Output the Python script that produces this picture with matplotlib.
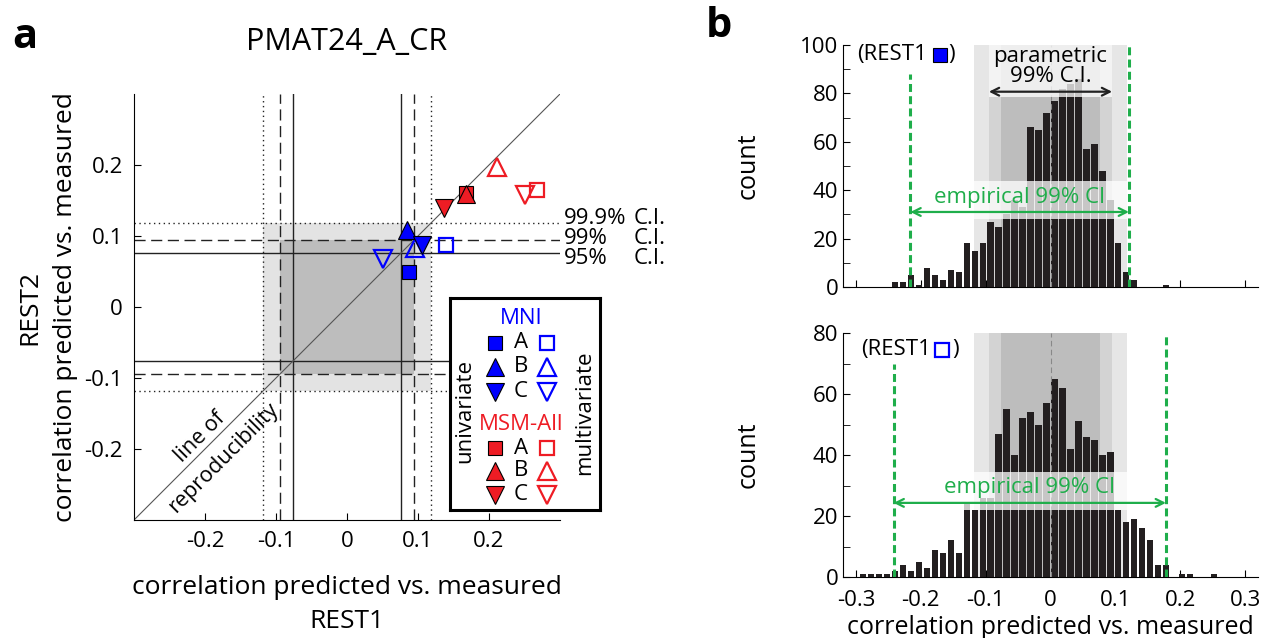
import numpy as np
import matplotlib
matplotlib.use('Agg')
import matplotlib.pyplot as plt
from matplotlib.patches import Rectangle

plt.rcParams['font.family'] = ['Open Sans', 'DejaVu Sans']

BLUE = '#0000ff'
RED = '#ee1c24'
GREEN = '#1fae4b'
BAR = '#231f20'

# ---- panel a data ----
ci_levels = ['95%', '99%', '99.9%']
ci_null = [0.076, 0.095, 0.118]          # half widths of null C.I.
ci_label_y = [0.068, 0.096, 0.125]       # labels spread a little so they don't collide
ci_styles = ['-', (0, (8, 4)), (0, (1, 2.5))]

group_labels = ['A', 'B', 'C']
group_markers = ['s', '^', 'v']
mni_uni_x = [0.088, 0.085, 0.106]
mni_uni_y = [0.050, 0.109, 0.087]
mni_multi_x = [0.140, 0.096, 0.050]
mni_multi_y = [0.088, 0.083, 0.067]
msm_uni_x = [0.168, 0.167, 0.136]
msm_uni_y = [0.161, 0.159, 0.139]
msm_multi_x = [0.268, 0.211, 0.251]
msm_multi_y = [0.165, 0.197, 0.158]

# ---- panel b data ----
bin_width = 0.0123
top_first_bin = -20
top_counts = [2, 2, 5, 1, 8, 5, 3, 7, 6, 18, 15, 18, 27, 25, 30, 36, 33, 66, 65, 72,
              77, 82, 84, 86, 57, 59, 48, 36, 18, 6, 3, 0, 0, 0, 1]
bottom_first_bin = -24
bottom_counts = [1, 1, 1, 1, 2, 4, 2, 5, 3, 9, 8, 12, 8, 24, 22, 26, 26, 47, 55, 40,
                 52, 54, 50, 57, 65, 62, 42, 51, 46, 45, 40, 41, 22, 18, 19, 16, 12, 4, 4, 0,
                 1, 1, 0, 0, 1]
top_emp_ci = [-0.216, 0.121]
bottom_emp_ci = [-0.242, 0.178]

W, H = 1261, 638
fig = plt.figure(figsize=(W / 100, H / 100), dpi=100)


def fx(px):
    return px / W


def fy(py):
    return 1 - py / H


# =================== panel a ===================
ax = fig.add_axes([fx(134), fy(520), 426 / W, 426 / H])
ax.set_xlim(-0.3, 0.3)
ax.set_ylim(-0.3, 0.3)
for s in ['top', 'right']:
    ax.spines[s].set_visible(False)
ax.set_xticks([-0.2, -0.1, 0, 0.1, 0.2])
ax.set_yticks([-0.2, -0.1, 0, 0.1, 0.2])
ax.set_xticklabels(['-0.2', '-0.1', '0', '0.1', '0.2'])
ax.set_yticklabels(['-0.2', '-0.1', '0', '0.1', '0.2'])
ax.tick_params(direction='in', length=5, labelsize=16, pad=8)

# shaded null regions
ax.add_patch(Rectangle((-ci_null[2], -ci_null[2]), 2 * ci_null[2], 2 * ci_null[2],
                       fc='#e3e3e3', ec='none', zorder=0))
ax.add_patch(Rectangle((-ci_null[1], -ci_null[1]), 2 * ci_null[1], 2 * ci_null[1],
                       fc='#bdbdbd', ec='none', zorder=0))

for val, ls in zip(ci_null, ci_styles):
    for v in (-val, val):
        ax.axhline(v, color='#222222', lw=1, ls=ls, zorder=1)
        ax.axvline(v, color='#222222', lw=1, ls=ls, zorder=1)

for lvl, ly in zip(ci_levels, ci_label_y):
    ax.text(0.306, ly, lvl, fontsize=16, ha='left', va='center', clip_on=False)
    ax.text(0.403, ly, 'C.I.', fontsize=16, ha='left', va='center', clip_on=False)

ax.plot([-0.3, 0.3], [-0.3, 0.3], color='#555555', lw=0.8, zorder=1)
ax.text(-0.2065, -0.1827, 'line of', fontsize=15.5, rotation=45,
        rotation_mode='anchor', ha='center', va='center')
ax.text(-0.174, -0.213, 'reproducibility', fontsize=15.5, rotation=45,
        rotation_mode='anchor', ha='center', va='center')


def draw_points(xs, ys, color, filled):
    for x, y, m in zip(xs, ys, group_markers):
        ms = 10 if m == 's' else 12.5
        if filled:
            ax.plot(x, y, m, ms=ms, mfc=color, mec='black', mew=0.8, zorder=4)
        else:
            ax.plot(x, y, m, ms=ms, mfc='none', mec=color, mew=1.6, zorder=4)


draw_points(mni_multi_x, mni_multi_y, BLUE, False)
draw_points(mni_uni_x, mni_uni_y, BLUE, True)
draw_points(msm_multi_x, msm_multi_y, RED, False)
draw_points(msm_uni_x, msm_uni_y, RED, True)

fig.text(fx(30), fy(307), 'REST2', rotation=90, fontsize=19, ha='center', va='center')
fig.text(fx(66), fy(307), 'correlation predicted vs. measured', rotation=90,
         fontsize=19, ha='center', va='center')
fig.text(fx(347), fy(587), 'correlation predicted vs. measured', fontsize=19,
         ha='center', va='center')
fig.text(fx(347), fy(622), 'REST1', fontsize=19, ha='center', va='center')
fig.text(fx(347), fy(50), 'PMAT24_A_CR', fontsize=22, ha='center', va='baseline')
fig.text(fx(12), fy(48), 'a', fontsize=30, fontweight='bold', ha='left', va='baseline')

# legend box
lax = fig.add_axes([fx(450), fy(510), 150 / W, 212 / H], zorder=5)
lax.set_xlim(0, 1)
lax.set_ylim(0, 1)
lax.set_xticks([])
lax.set_yticks([])
for s in lax.spines.values():
    s.set_linewidth(2.2)
lax.text(0.473, 0.905, 'MNI', color=BLUE, fontsize=16, ha='center', va='center')
lax.text(0.473, 0.405, 'MSM-All', color=RED, fontsize=16, ha='center', va='center')
lax.text(0.10, 0.467, 'univariate', rotation=90, fontsize=16, ha='center', va='center')
lax.text(0.90, 0.458, 'multivariate', rotation=90, fontsize=16, ha='center', va='center')
for rows, color in [([0.788, 0.675, 0.557], BLUE), ([0.292, 0.184, 0.071], RED)]:
    for yy, m, lab in zip(rows, group_markers, group_labels):
        ms = 9.5 if m == 's' else 12.5
        lax.plot(0.30, yy, m, ms=ms, mfc=color, mec='black', mew=0.8)
        lax.plot(0.647, yy, m, ms=ms, mfc='none', mec=color, mew=1.6)
        lax.text(0.473, yy, lab, fontsize=16, ha='center', va='center')

# =================== panel b ===================
fig.text(fx(706), fy(37), 'b', fontsize=30, fontweight='bold', ha='left', va='baseline')


def draw_hist(ax, first_bin, counts, ymax, emp_ci, emp_y, emp_text_y, band, left_top):
    ax.set_xlim(-0.32, 0.32)
    ax.set_ylim(0, ymax)
    for s in ['top', 'right']:
        ax.spines[s].set_visible(False)
    for half, col in zip(ci_null[::-1], ['#e6e6e6', '#d3d3d3', '#bdbdbd']):
        ax.axvspan(-half, half, color=col, lw=0, zorder=0)
    centers = (first_bin + np.arange(len(counts)) + 0.5) * bin_width
    ax.bar(centers, counts, width=bin_width * 0.8, color=BAR, lw=0, zorder=2)
    ax.axvline(0, color='#888888', lw=0.8, ls=(0, (5, 3)), zorder=3)
    # light band behind the empirical label
    ax.add_patch(Rectangle((-0.14, band[0]), 0.27, band[1] - band[0],
                           fc='white', alpha=0.75, ec='none', zorder=3))
    ax.plot([emp_ci[0]] * 2, [0, left_top], color=GREEN, lw=2.2,
            ls=(0, (2.6, 1.4)), zorder=5)
    ax.plot([emp_ci[1]] * 2, [0, ymax], color=GREEN, lw=2.2,
            ls=(0, (2.6, 1.4)), zorder=5)
    ax.annotate('', xy=(emp_ci[0], emp_y), xytext=(emp_ci[1], emp_y),
                arrowprops=dict(arrowstyle='<->', color=GREEN, lw=1.6,
                                mutation_scale=14, shrinkA=0, shrinkB=0), zorder=6)
    ax.text(np.mean(emp_ci), emp_text_y, 'empirical 99% CI', color=GREEN,
            fontsize=16, ha='center', va='center', zorder=6)
    ax.set_xticks(np.round(np.arange(-0.3, 0.31, 0.1), 1))
    ax.set_yticks(np.arange(0, ymax + 1, 20))
    ax.set_yticks(np.arange(0, ymax + 1, 10), minor=True)
    ax.tick_params(which='both', direction='in', length=5, labelsize=16)
    ax.tick_params(axis='x', pad=9)
    ax.set_ylabel('count', fontsize=18, va='center')
    ax.yaxis.set_label_coords(-0.229, 0.5)


axt = fig.add_axes([fx(843), fy(287), 415 / W, 242 / H])
draw_hist(axt, top_first_bin, top_counts, 100, top_emp_ci, 31, 37, (28, 44), 88)
axt.set_xticklabels([])
axt.add_patch(Rectangle((-ci_null[1], 78.5), 2 * ci_null[1], 22,
                        fc='white', alpha=0.75, ec='none', zorder=3))
axt.annotate('', xy=(-ci_null[1], 80.7), xytext=(ci_null[1], 80.7),
             arrowprops=dict(arrowstyle='<->', color='#222222', lw=1.6,
                             mutation_scale=14, shrinkA=0, shrinkB=0), zorder=6)
axt.text(0, 91, 'parametric\n99% C.I.', fontsize=16, ha='center', va='center',
         linespacing=0.95, zorder=6)
axt.text(-0.298, 96, '(REST1', fontsize=16, ha='left', va='center', zorder=6)
axt.plot(-0.170, 96, 's', ms=10, mfc=BLUE, mec='black', mew=0.8, zorder=6)
axt.text(-0.158, 96, ')', fontsize=16, ha='left', va='center', zorder=6)

axb = fig.add_axes([fx(843), fy(577), 415 / W, 244 / H])
draw_hist(axb, bottom_first_bin, bottom_counts, 80, bottom_emp_ci, 24.3, 29.5, (22, 34.5), 70)
axb.set_xticklabels(['-0.3', '-0.2', '-0.1', '0', '0.1', '0.2', '0.3'])
axb.text(-0.292, 74.5, '(REST1', fontsize=16, ha='left', va='center', zorder=6)
axb.plot(-0.167, 74.5, 's', ms=10, mfc='none', mec=BLUE, mew=1.6, zorder=6)
axb.text(-0.152, 74.5, ')', fontsize=16, ha='left', va='center', zorder=6)
fig.text(fx(1050), fy(634), 'correlation predicted vs. measured', fontsize=18,
         ha='center', va='baseline')

fig.savefig('out.png', dpi=100, facecolor='white')
